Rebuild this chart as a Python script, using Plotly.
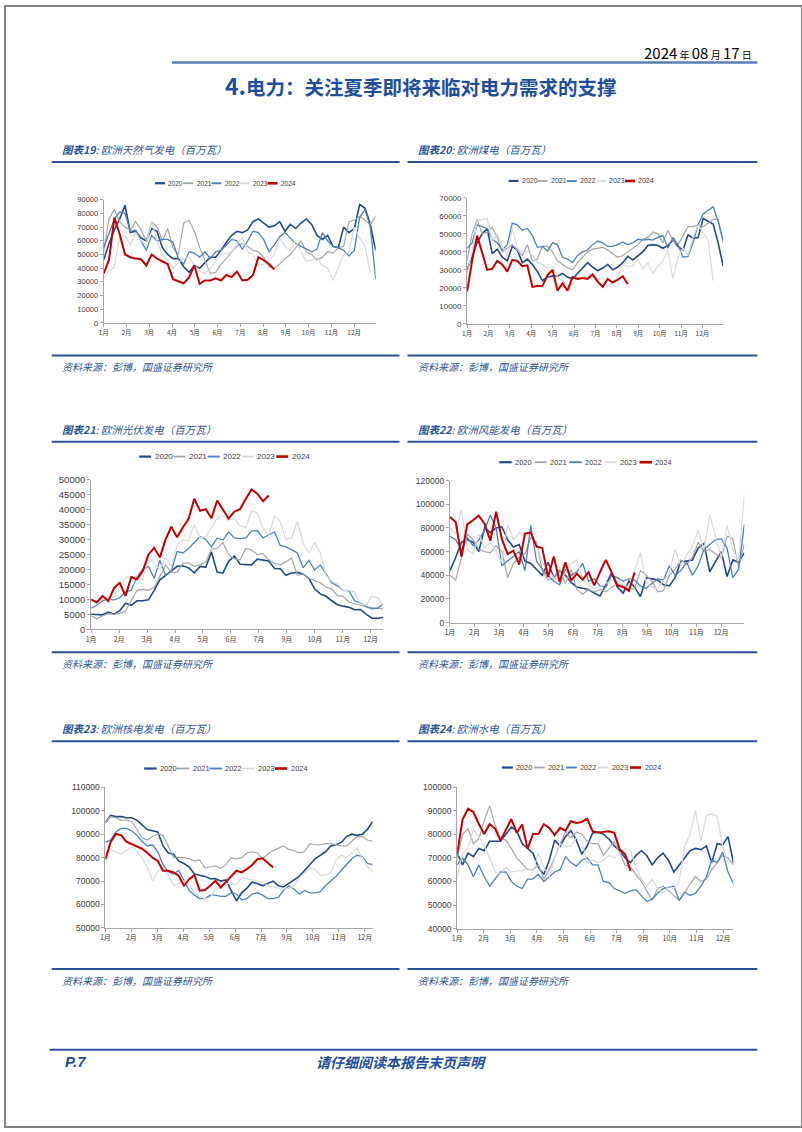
import plotly.graph_objects as go

W, H = 802, 1132

YEARS = ["2020", "2021", "2022", "2023", "2024"]
COLORS = ["#23498a", "#a6a6a6", "#4f81bd", "#d9d9d9", "#c00000"]
WIDTHS = [1.6, 1.2, 1.3, 1.2, 2.0]

MONTHS_12 = ["1月", "2月", "3月", "4月", "5月", "6月", "7月", "8月", "9月", "10月", "11月", "12月"]
MONTHS_11 = ["1月", "2月", "3月", "4月", "5月", "6月", "7月", "9月", "10月", "11月", "12月"]

# ---------------- 图表19 天然气发电 ----------------
gas_2020 = [46000, 58000, 68000, 76000, 86000, 66000, 67000, 62000, 60000, 69000,
            67000, 55000, 50000, 47000, 47000, 41000, 37000, 42000, 40000, 44000,
            48000, 48000, 53000, 59000, 64000, 67000, 66000, 68000, 74000, 76000,
            73000, 70000, 71000, 74000, 67000, 72000, 69000, 73000, 76000, 72000,
            64000, 61000, 64000, 56000, 55000, 70000, 66000, 69000, 86500, 84000,
            72000, 53000]
gas_2021 = [52000, 76000, 83000, 74000, 70000, 68000, 74000, 68000, 60000, 74000,
            70000, 60000, 69000, 55000, 50000, 73000, 75000, 67000, 55000, 45000,
            36000, 37000, 43000, 47000, 52000, 56000, 58000, 56000, 53000, 52000,
            48000, 41000, 40000, 43000, 47000, 50000, 55000, 60000, 52000, 50000,
            46000, 48000, 52000, 51000, 55000, 56000, 74000, 75000, 78000, 75000,
            72000, 78000]
gas_2022 = [55000, 65000, 76000, 81000, 80000, 67000, 68000, 60000, 53000, 64000,
            60000, 61000, 61000, 59000, 47000, 43000, 52000, 51000, 48000, 52000,
            47000, 52000, 53000, 57000, 61000, 60000, 54000, 60000, 67000, 66000,
            61000, 52000, 57000, 63000, 66000, 62000, 58000, 56000, 54000, 52000,
            54000, 66000, 60000, 56000, 55000, 53000, 49000, 53000, 77000, 83000,
            70000, 32000]
gas_2023 = [33000, 38000, 41000, 62000, 64000, 57000, 66000, 60000, 57000, 74000,
            60000, 50000, 46000, 40000, 44000, 47000, 48000, 42000, 38000, 36000,
            40000, 45000, 50000, 51000, 51000, 58000, 62000, 52000, 50000, 42000,
            43000, 45000, 50000, 62000, 56000, 53000, 60000, 52000, 45000, 46000,
            48000, 42000, 40000, 31000, 40000, 50000, 52000, 70000, 62000, 56000,
            36000]
gas_2024 = [36000, 46000, 77000, 65000, 50000, 48000, 47000, 46500, 42000, 50000,
            47000, 45000, 43000, 32000, 30500, 29000, 33000, 42000, 28500, 31000,
            31000, 32500, 31000, 35000, 33500, 37500, 31000, 31500, 35000, 48000,
            46000, 43000, 39000]

# ---------------- 图表20 煤电 ----------------
coal_2020 = [30000, 38000, 45000, 50000, 53000, 39000, 41500, 37000, 35000, 43000,
             41000, 34000, 36000, 33000, 29000, 24000, 26000, 26500, 26500, 28000,
             26000, 25000, 28000, 31000, 34000, 31500, 29500, 31000, 33000, 30000,
             31500, 34000, 37500, 35500, 38000, 40000, 43500, 44000, 43500, 42000,
             43500, 46500, 43000, 41000, 49500, 47500, 48000, 58500, 57000, 55500,
             45000, 32000]
coal_2021 = [35000, 50000, 58000, 50000, 51000, 53500, 48000, 40000, 42000, 44000,
             41000, 38000, 44000, 35000, 36000, 43000, 43000, 40000, 35000, 33000,
             31000, 30000, 34000, 37000, 40000, 41500, 42000, 42500, 41000, 39000,
             37000, 38000, 40000, 42000, 44000, 47000, 48000, 51000, 50000, 45000,
             52000, 46000, 44000, 49000, 54000, 54000, 55000, 54000, 56000, 58000,
             58000, 45000]
coal_2022 = [42000, 45000, 55000, 54000, 53000, 47000, 45000, 41000, 44000, 56000,
             55000, 52000, 53000, 49000, 42500, 43000, 40500, 45000, 44000, 37000,
             36000, 34000, 38000, 40000, 41000, 44000, 46000, 45000, 43000, 43000,
             44000, 45500, 44000, 45000, 47000, 46500, 47000, 46500, 48000, 49000,
             42000, 48000, 44000, 37000, 37500, 45000, 55000, 61000, 63000, 65000,
             57000, 46000]
coal_2023 = [28000, 40000, 57000, 58000, 58500, 46000, 50000, 43000, 38000, 53000,
             42000, 40000, 40000, 38000, 34000, 33000, 31000, 32000, 26000, 24000,
             21000, 22000, 27000, 30000, 29000, 26000, 25000, 25500, 21000, 23000,
             26000, 33000, 32000, 32000, 36000, 30500, 34000, 28000, 32000, 35000,
             41000, 25000, 37000, 42000, 38000, 48000, 55000, 51000, 46000, 24000]
coal_2024 = [18000, 35000, 49000, 40000, 30000, 30500, 35000, 33000, 29000, 35500,
             35000, 32000, 32500, 20500, 21000, 21000, 27000, 30000, 18500, 22500,
             18500, 26000, 25000, 25500, 25000, 27500, 23500, 20500, 25000, 23000,
             24500, 26500, 22000]

# ---------------- 图表21 光伏发电 ----------------
solar_2020 = [5000, 5000, 4800, 5700, 5000, 6200, 8700, 8000, 9500, 9500,
              9800, 13000, 16500, 18000, 19500, 21000, 21200, 20500, 18800, 21000,
              20700, 25800, 19000, 18800, 22700, 24500, 21700, 21500, 21500, 23400,
              23000, 22800, 20300, 20200, 18000, 18800, 19000, 18500, 17000, 13500,
              11800, 11000, 9500, 8200, 7700, 7300, 6500, 6600, 5000, 3700,
              3600, 4000]
solar_2021 = [4500, 3500, 4500, 5200, 5000, 5300, 6000, 9500, 13000, 13300,
              13000, 14000, 17500, 21500, 19000, 19000, 22000, 22200, 21000, 21500,
              22500, 26800, 27000, 29000, 25000, 23500, 23200, 27000, 26500, 25000,
              25300, 23200, 22000, 21500, 22500, 23800, 18000, 18500, 17000, 16300,
              15500, 14000, 13500, 11200, 11000, 9000, 8500, 7800, 7500, 7200,
              7000, 6800]
solar_2022 = [7000, 8000, 9500, 10000, 9800, 10500, 12500, 13000, 17500, 20000,
              21000, 17000, 23000, 18000, 19500, 26000, 25500, 27000, 29000, 31000,
              30000, 27500, 30500, 29800, 32500, 30500, 30300, 30500, 32800, 33000,
              30500, 31500, 32500, 28000, 27500, 26500, 25500, 20500, 23000, 19800,
              21500, 18500, 15500, 14500, 13000, 12800, 9500, 8800, 7500, 6800,
              7000, 8500]
solar_2023 = [10000, 8500, 10000, 9500, 11000, 14000, 17500, 17000, 18000, 16500,
              24000, 22000, 20000, 24000, 21000, 28000, 30000, 29500, 35000, 30500,
              31000, 34000, 37000, 38000, 36500, 37000, 34500, 34000, 39500, 39000,
              33500, 31500, 38000, 36000, 30000, 30500, 36000, 29000, 25500, 29000,
              25500, 18000, 16000, 15000, 13000, 13000, 12500, 8500, 8000, 11000,
              10500, 8000]
solar_2024 = [9900, 9000, 11100, 9400, 13800, 15500, 11100, 17400, 16700, 19400,
              25000, 27200, 24000, 30000, 34300, 30700, 34000, 36800, 43600, 39600,
              40100, 37100, 43000, 40100, 37000, 39300, 40100, 43600, 46700, 45300,
              42800, 44700]

# ---------------- 图表22 风能发电 ----------------
wind_2020 = [44000, 55000, 68000, 70000, 68000, 60000, 80000, 76000, 80000, 81000,
             70000, 64000, 66000, 52000, 50000, 45000, 40000, 51000, 38000, 44000,
             40000, 34000, 30000, 29000, 28000, 25000, 22500, 32000, 42000, 30000,
             25000, 35000, 30000, 22000, 38000, 37000, 36000, 32000, 31000, 38000,
             52000, 52000, 53000, 63000, 67000, 43000, 52000, 60000, 39000, 53000,
             51000, 59000]
wind_2021 = [40000, 36000, 55000, 75000, 70000, 62000, 60000, 59000, 65000, 60000,
             38000, 50000, 55000, 58000, 72000, 68000, 44000, 36000, 37000, 45000,
             33000, 45000, 28000, 24000, 28000, 26000, 28000, 26000, 30000, 33000,
             31000, 28000, 29000, 44000, 40000, 35000, 26000, 27000, 40000, 45000,
             53000, 49000, 55000, 68000, 60000, 62000, 58000, 55000, 73000, 71000,
             46000, 67000]
wind_2022 = [73000, 70000, 61000, 72000, 65000, 70000, 78000, 91000, 80000, 48000,
             52000, 56000, 60000, 44000, 82000, 52000, 45000, 40000, 35000, 32000,
             45000, 40000, 43000, 50000, 35000, 37000, 31000, 30000, 40000, 38000,
             35000, 37000, 36000, 31000, 29000, 33000, 37000, 36000, 48000, 40000,
             44000, 51000, 40000, 48000, 62000, 66000, 70000, 71000, 63000, 38000,
             45000, 83000]
wind_2023 = [80000, 75000, 96000, 62000, 58000, 75000, 63000, 68000, 60000, 51000,
             83000, 70000, 76000, 73000, 77000, 66000, 50000, 45000, 38000, 36000,
             42000, 50000, 53000, 37000, 32000, 29000, 30000, 33000, 36000, 35000,
             32000, 30000, 45000, 59000, 34000, 30000, 29000, 35000, 42000, 62000,
             48000, 57000, 65000, 78000, 62000, 91000, 72000, 55000, 82000, 62000,
             52000, 108000]
wind_2024 = [89300, 85100, 55800, 83100, 86500, 90400, 83700, 69200, 93700, 70600,
             58000, 60800, 49100, 75300, 76200, 64200, 63100, 38500, 55800, 34300,
             51100, 35700, 41300, 36300, 42700, 31500, 42700, 53000, 42700, 31500,
             30100, 26800, 42400]

# ---------------- 图表23 核电发电 ----------------
nuc_2020 = [95000, 98000, 97500, 97500, 97000, 97000, 96000, 94000, 92000, 91500,
            91000, 85000, 82000, 81500, 78500, 77500, 76000, 73000, 72500, 72000,
            71000, 71000, 70000, 70500, 66000, 61500, 65000, 67000, 69500, 69000,
            68000, 69000, 70000, 68000, 67500, 69000, 70500, 72000, 74500, 77000,
            79500, 81000, 82500, 85000, 85500, 86500, 89000, 90000, 89500, 90000,
            92000, 95500]
nuc_2021 = [95000, 97500, 97000, 96000, 96000, 95500, 92000, 88500, 87500, 89000,
            90000, 89500, 85000, 80000, 80000, 80000, 79500, 78500, 79000, 75500,
            76000, 76500, 75500, 77000, 80000, 79500, 80000, 82000, 82500, 82000,
            79500, 81500, 83000, 84000, 85000, 83500, 83000, 82000, 82500, 86000,
            85500, 85500, 86000, 86000, 85500, 85000, 85000, 87000, 89000, 89000,
            87500, 87000]
nuc_2022 = [86500, 87500, 91000, 92500, 92500, 91500, 89500, 87000, 85000, 85500,
            82500, 77000, 74000, 73000, 74500, 70000, 66000, 64000, 62500, 62500,
            64000, 64000, 63500, 63500, 65000, 64500, 62000, 62500, 64500, 65000,
            64000, 62500, 62500, 63000, 66000, 68000, 66500, 64500, 66000, 65000,
            65000, 65500, 68000, 70000, 72000, 74500, 77000, 79500, 81000, 80500,
            77500, 77000]
nuc_2023 = [79000, 83500, 82500, 81500, 83000, 84500, 83000, 80000, 76000, 70000,
            74000, 76000, 72500, 68000, 69000, 70000, 68000, 65000, 63500, 62500,
            63000, 66500, 67000, 69000, 69000, 68500, 71500, 71000, 70500, 70000,
            69500, 68000, 67500, 67000, 66500, 67000, 68000, 71500, 73500, 75500,
            75000, 72500, 72500, 73500, 79000, 81000, 80000, 82000, 84000, 80000,
            76000, 74000]
nuc_2024 = [79300, 86600, 90100, 89600, 86800, 85900, 84900, 83800, 82100, 80000,
            78600, 74400, 74400, 73700, 72300, 68000, 70800, 72500, 65900, 66200,
            68000, 70100, 67300, 69700, 72300, 74400, 73700, 75100, 76900, 79300,
            79700, 77900, 75800]

# ---------------- 图表24 水电 ----------------
hydro_2020 = [72000, 67000, 72000, 70500, 74000, 73000, 77000, 77000, 77000, 80000,
              83000, 81500, 76000, 74000, 72000, 66000, 63000, 69000, 77500, 75000,
              79000, 81500, 77500, 71500, 75000, 80500, 81000, 80000, 78000, 75000,
              73000, 70000, 68000, 71000, 73000, 71000, 67000, 70000, 72000, 69000,
              64000, 67000, 70000, 73000, 74000, 73500, 75000, 68000, 76000, 75500,
              79000, 68000]
hydro_2021 = [70000, 80000, 82500, 76000, 78000, 86000, 92000, 84000, 78000, 77500,
              74000, 70000, 67500, 65000, 65000, 67000, 61000, 65000, 70000, 76000,
              81000, 78500, 81000, 80000, 77000, 76000, 76000, 71000, 74000, 77000,
              72000, 67000, 66000, 63000, 60000, 56000, 52000, 57000, 58000, 56000,
              54000, 52000, 55000, 59000, 62000, 60000, 61000, 65000, 68000, 71000,
              70000, 67000]
hydro_2022 = [67000, 70000, 67000, 62000, 67000, 62000, 58000, 61000, 64000, 64000,
              60000, 58000, 57000, 61000, 61000, 63000, 60000, 62000, 64000, 65000,
              70500, 68000, 66500, 69000, 70000, 67000, 67000, 60000, 59500, 57000,
              56000, 55000, 56000, 56500, 54000, 51500, 52500, 55000, 57000, 57500,
              58000, 52000, 55500, 54000, 55000, 58000, 62000, 69000, 68000, 72500,
              64000, 59000]
hydro_2023 = [62000, 72000, 74000, 82000, 79000, 75000, 70000, 64000, 63000, 66000,
              64000, 64500, 64500, 65500, 64500, 72000, 66000, 62000, 70000, 76000,
              75000, 75000, 78500, 77000, 68000, 69000, 68000, 69000, 71000, 70000,
              72000, 74000, 73000, 66000, 61000, 58000, 61000, 57000, 55000, 58000,
              57000, 60000, 75000, 80000, 90000, 77000, 88000, 88500, 87500, 75000,
              68000]
hydro_2024 = [71700, 86200, 90800, 89400, 84300, 80100, 84300, 82400, 77300, 82000,
              86400, 80600, 84100, 73800, 80100, 80100, 84300, 82700, 79600, 82700,
              81500, 85500, 84800, 85200, 86600, 81300, 80600, 81000, 81300, 80600,
              73600, 71500, 64500]

# ---------------- titles ----------------
DATE_TEXT = "2024 年 08 月 17 日"
PAGE_TITLE = "4.电力：关注夏季即将来临对电力需求的支撑"
CHART_NUMS = ["19", "20", "21", "22", "23", "24"]
CHART_NAMES = ["欧洲天然气发电（百万瓦）", "欧洲煤电（百万瓦）", "欧洲光伏发电（百万瓦）",
               "欧洲风能发电（百万瓦）", "欧洲核电发电（百万瓦）", "欧洲水电（百万瓦）"]
SOURCE_TEXT = "资料来源：彭博，国盛证券研究所"
FOOTER_PAGE = "P.7"
FOOTER_TEXT = "请仔细阅读本报告末页声明"

SERIES = [
    [gas_2020, gas_2021, gas_2022, gas_2023, gas_2024],
    [coal_2020, coal_2021, coal_2022, coal_2023, coal_2024],
    [solar_2020, solar_2021, solar_2022, solar_2023, solar_2024],
    [wind_2020, wind_2021, wind_2022, wind_2023, wind_2024],
    [nuc_2020, nuc_2021, nuc_2022, nuc_2023, nuc_2024],
    [hydro_2020, hydro_2021, hydro_2022, hydro_2023, hydro_2024],
]

GEOM = [
    dict(x0=99.3, x1=373, yt=195.7, yb=320, yr=[0, 90000], dt=10000, sp=4.27, lab=MONTHS_12,
         fs=7.5, xfs=6.5, lg=dict(y=179, x=151, step=28.3, ln=10, fs=6.5)),
    dict(x0=465, x1=722.7, yt=193.7, yb=321, yr=[0, 70000], dt=10000, sp=4.26, lab=MONTHS_12,
         fs=8, xfs=6.5, lg=dict(y=176.7, x=506.7, step=29.3, ln=10, fs=7)),
    dict(x0=86.7, x1=380.7, yt=478.3, yb=629.3, yr=[0, 50000], dt=5000, sp=4.88, lab=MONTHS_11,
         fs=9.5, xfs=7, lg=dict(y=455, x=135, step=34.5, ln=12, fs=8)),
    dict(x0=447.7, x1=744, yt=479.3, yb=622.7, yr=[0, 120000], dt=20000, sp=4.27, lab=MONTHS_12,
         fs=8.5, xfs=7, lg=dict(y=460.7, x=497.3, step=35.3, ln=12.5, fs=7.5)),
    dict(x0=101, x1=370, yt=789, yb=931, yr=[50000, 110000], dt=10000, sp=4.95, lab=MONTHS_11,
         fs=8.5, xfs=7, lg=dict(y=770, x=140, step=32.9, ln=12.5, fs=7.5)),
    dict(x0=455, x1=733, yt=788.7, yb=931.7, yr=[40000, 100000], dt=10000, sp=4.91, lab=MONTHS_11,
         fs=8.5, xfs=7, lg=dict(y=769, x=500, step=32.25, ln=11, fs=7.3)),
]

ROWS = [(145, 157.5, 353, 364), (428, 440, 652.5, 664), (730, 742.5, 972.5, 984)]
COLS = [(47, 397, 55), (405, 757, 414)]


def fx(x):
    return x / W


def fy(y):
    return 1 - y / H


LATIN = "Liberation Sans, Arial, Noto Sans CJK SC, sans-serif"
CJK = "Noto Sans CJK SC, sans-serif"
BLUE_TXT = "#2f5597"
LINE_BLUE = "#2e4f96"

fig = go.Figure()
shapes = []
annotations = []
layout_axes = {}

for k, (series, g) in enumerate(zip(SERIES, GEOM), start=1):
    sfx = "" if k == 1 else str(k)
    for yi, vals in enumerate(series):
        fig.add_trace(go.Scatter(
            x=list(range(len(vals))), y=vals, mode="lines",
            line=dict(color=COLORS[yi], width=WIDTHS[yi]),
            xaxis="x" + sfx, yaxis="y" + sfx, showlegend=False, hoverinfo="skip"))
    tickvals = [i * g["sp"] for i in range(len(g["lab"]))]
    layout_axes["xaxis" + sfx] = dict(
        domain=[fx(g["x0"]), fx(g["x1"])], range=[0, 51], anchor="y" + sfx,
        tickmode="array", tickvals=tickvals, ticktext=g["lab"],
        showline=True, linecolor="#a6a6a6", linewidth=1, showgrid=False, zeroline=False,
        ticks="outside", ticklen=3, tickcolor="#a6a6a6",
        tickfont=dict(family=CJK, size=g["xfs"], color="#404040"), fixedrange=True)
    layout_axes["yaxis" + sfx] = dict(
        domain=[fy(g["yb"]), fy(g["yt"])], range=g["yr"], anchor="x" + sfx,
        tickmode="linear", tick0=g["yr"][0], dtick=g["dt"], tickformat="d",
        showline=True, linecolor="#a6a6a6", linewidth=1, showgrid=False, zeroline=False,
        ticks="outside", ticklen=3, tickcolor="#a6a6a6",
        tickfont=dict(family=LATIN, size=g["fs"], color="#404040"), fixedrange=True)
    lg = g["lg"]
    for yi, name in enumerate(YEARS):
        xs = lg["x"] + yi * lg["step"]
        shapes.append(dict(type="line", xref="paper", yref="paper",
                           x0=fx(xs), x1=fx(xs + lg["ln"]), y0=fy(lg["y"]), y1=fy(lg["y"]),
                           line=dict(color=COLORS[yi], width=WIDTHS[yi] + 0.6)))
        annotations.append(dict(text=name, xref="paper", yref="paper",
                                x=fx(xs + lg["ln"] + 1.5), y=fy(lg["y"]), xanchor="left", yanchor="middle",
                                showarrow=False, font=dict(family=LATIN, size=lg["fs"], color="#404040")))

for r, (ty, tly, sly, sty) in enumerate(ROWS):
    for c, (lx0, lx1, tx) in enumerate(COLS):
        idx = r * 2 + c
        shapes.append(dict(type="line", xref="paper", yref="paper",
                           x0=fx(lx0), x1=fx(lx1), y0=fy(tly), y1=fy(tly),
                           line=dict(color=LINE_BLUE, width=2)))
        shapes.append(dict(type="line", xref="paper", yref="paper",
                           x0=fx(lx0), x1=fx(lx1), y0=fy(sly), y1=fy(sly),
                           line=dict(color=LINE_BLUE, width=2)))
        annotations.append(dict(
            text="<i><b>图表" + CHART_NUMS[idx] + "</b>: " + CHART_NAMES[idx] + "</i>",
            xref="paper", yref="paper", x=fx(tx), y=fy(ty), xanchor="left", yanchor="middle",
            showarrow=False, font=dict(family=CJK, size=10.5, color=BLUE_TXT)))
        annotations.append(dict(
            text="<i>" + SOURCE_TEXT + "</i>",
            xref="paper", yref="paper", x=fx(tx), y=fy(sty), xanchor="left", yanchor="middle",
            showarrow=False, font=dict(family=CJK, size=10, color=BLUE_TXT)))

date_parts = DATE_TEXT.split(" ")
date_html = "".join(
    (p if p.isdigit() else "<span style='font-size:10px'> " + p + " </span>") for p in date_parts)
annotations.append(dict(text=date_html, xref="paper", yref="paper", x=fx(756), y=fy(47),
                        xanchor="right", yanchor="middle", showarrow=False,
                        font=dict(family="Liberation Sans Narrow, " + CJK, size=15, color="#000000")))
shapes.append(dict(type="line", xref="paper", yref="paper", x0=fx(168), x1=fx(757),
                   y0=fy(57), y1=fy(57), line=dict(color="#5b7fb5", width=2.5)))
annotations.append(dict(
    text="<b><span style='font-size:23px'>" + PAGE_TITLE[:2] + "</span>" + PAGE_TITLE[2:] + "</b>",
    xref="paper", yref="paper", x=fx(419), y=fy(80), xanchor="center", yanchor="middle",
    showarrow=False, font=dict(family=CJK, size=19.5, color="#1f4e9c")))

shapes.append(dict(type="line", xref="paper", yref="paper", x0=fx(45), x1=fx(757),
                   y0=fy(1054), y1=fy(1054), line=dict(color=LINE_BLUE, width=1.8)))
annotations.append(dict(text="<b><i>" + FOOTER_PAGE + "</i></b>", xref="paper", yref="paper",
                        x=fx(58), y=fy(1066), xanchor="left", yanchor="middle", showarrow=False,
                        font=dict(family=LATIN, size=15, color="#1f4e9c")))
annotations.append(dict(text="<b><i>" + FOOTER_TEXT + "</i></b>", xref="paper", yref="paper",
                        x=fx(399), y=fy(1066), xanchor="center", yanchor="middle", showarrow=False,
                        font=dict(family=CJK, size=14, color="#1f4e9c")))

shapes.append(dict(type="rect", xref="paper", yref="paper", x0=0, x1=1, y0=0, y1=1,
                   line=dict(color="#808080", width=2), fillcolor="rgba(0,0,0,0)"))

fig.update_layout(
    width=W, height=H, margin=dict(l=0, r=0, t=0, b=0),
    paper_bgcolor="white", plot_bgcolor="white", showlegend=False,
    shapes=shapes, annotations=annotations, **layout_axes)

fig.write_html("out.html", config={"displayModeBar": False, "staticPlot": True},
               post_script="document.body.style.margin='0';document.body.style.overflow='hidden';")
